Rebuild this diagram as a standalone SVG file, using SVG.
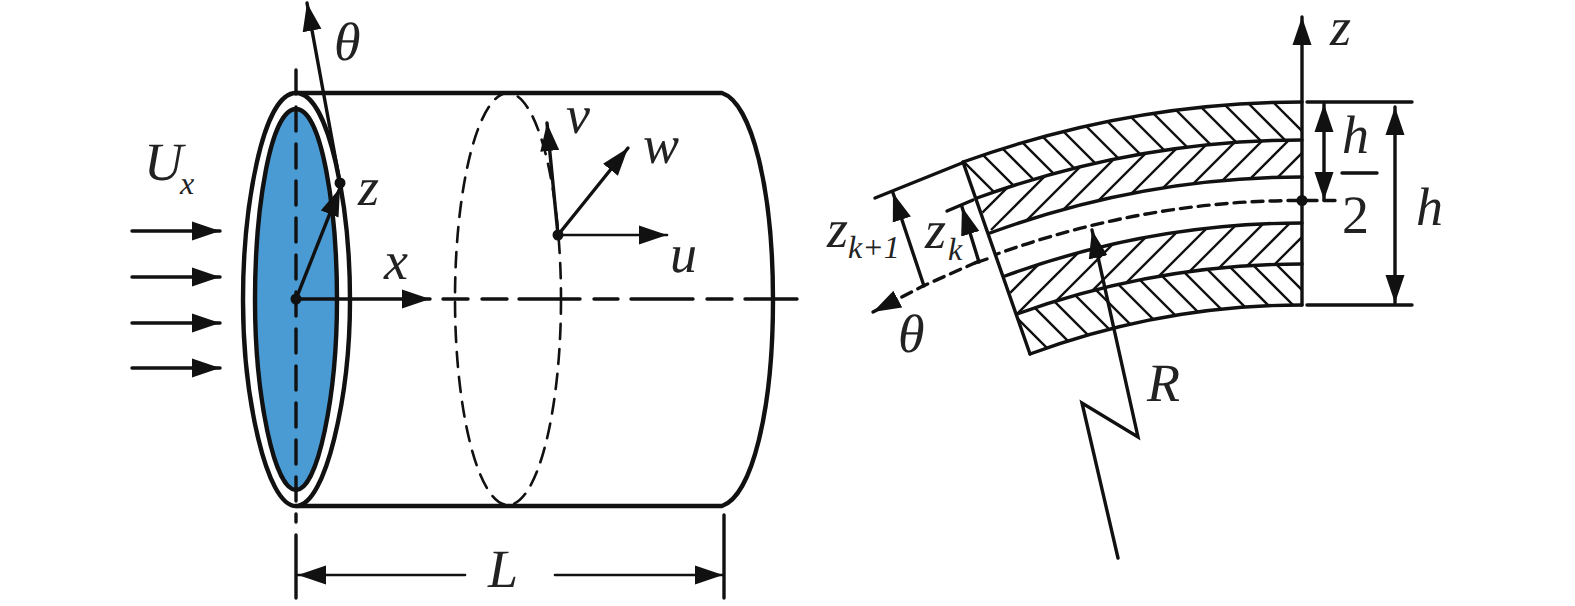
<svg xmlns="http://www.w3.org/2000/svg" width="1575" height="606" viewBox="0 0 1575 606">
<style>
.l{fill:none;stroke:#111;stroke-linecap:round}
.w4{stroke-width:4.4}.w3{stroke-width:3.4}.w2{stroke-width:2.6}
.h{fill:none;stroke:#111;stroke-width:2.4}
.t{font-family:"Liberation Serif",serif;font-style:italic;font-size:54px;fill:#222;text-rendering:geometricPrecision}
.s{font-size:32px}.n{font-style:normal}
</style>
<defs>
<marker id="a" markerUnits="userSpaceOnUse" markerWidth="30" markerHeight="22" refX="28" refY="10" orient="auto-start-reverse"><path d="M0 0.500L28 10L0 19.500Z" fill="#111"/></marker>
<clipPath id="c1"><path d="M963 162Q1130 102 1302 102V140Q1137 140 977 198Z"/></clipPath>
<clipPath id="c2"><path d="M977 198Q1137 140 1302 140V177Q1143 177 990 233Z"/></clipPath>
<clipPath id="c3"><path d="M1005 276Q1150 223 1302 223V264Q1156 264 1017 314Z"/></clipPath>
<clipPath id="c4"><path d="M1017 314Q1156 264 1302 264V305Q1163 305 1030 354Z"/></clipPath>
</defs>
<g id="cylinder">
<path class="l w4" d="M296 93H722C752 103 773 190 773 300C773 410 752 496 722 506H296"/>
<path class="l w4" style="fill:#fff" d="M296 93C262 93 243 210 243 300C243 395 266 506 296 506C326 506 350 395 350 300C350 210 330 93 296 93Z"/>
<path class="l w4" style="fill:#4a9bd4" d="M296 109C270 109 255 210 255 300C255 395 274 490 296 490C318 490 337 395 337 300C337 210 322 109 296 109Z"/>
<ellipse class="l w2" cx="508" cy="299" rx="53" ry="206" stroke-dasharray="15 10" stroke-linecap="butt"/>
</g>
<g id="connectors-left">
<path class="l w3" stroke-dasharray="24 13" stroke-linecap="butt" d="M296 70V522"/>
<path class="l w3" d="M296 535V598M724 515V598"/>
<path class="l w3" d="M296 299H430" marker-end="url(#a)"/>
<path class="l w3" stroke-linecap="butt" d="M443 299H468M482 299H507M519 299H580M594 299H618M631 299H693M707 299H732M745 299H797"/>
<path class="l w3" d="M340 183L307 3" marker-end="url(#a)"/>
<path class="l w3" d="M296 299L340 188" marker-end="url(#a)"/>
<circle cx="340" cy="183" r="5.500" fill="#111"/><circle cx="296" cy="299" r="5.500" fill="#111"/>
<path class="l w3" d="M132 231H220" marker-end="url(#a)"/>
<path class="l w3" d="M132 277H220" marker-end="url(#a)"/>
<path class="l w3" d="M132 323H220" marker-end="url(#a)"/>
<path class="l w3" d="M132 368H220" marker-end="url(#a)"/>
<path class="l w3" d="M558 235L547 123" marker-end="url(#a)"/>
<path class="l w3" d="M558 235L628 148" marker-end="url(#a)"/>
<path class="l w2" d="M558 235H667" marker-end="url(#a)"/>
<circle cx="558" cy="235" r="5.500" fill="#111"/>
<path class="l w2" d="M465 575H298" marker-end="url(#a)"/>
<path class="l w2" d="M555 575H723" marker-end="url(#a)"/>
</g>
<g id="laminate">
<g clip-path="url(#c1)"><path class="h" d="M892 90L1012 210M918 90L1038 210M944 90L1064 210M970 90L1090 210M996 90L1116 210M1022 90L1142 210M1050 90L1170 210M1076 90L1196 210M1104 90L1224 210M1130 90L1250 210M1156 90L1276 210M1184 90L1304 210M1210 90L1330 210M1235 90L1355 210M1261 90L1381 210"/></g>
<g clip-path="url(#c2)"><path class="h" d="M1105 90L965 230M1131 90L991 230M1157 90L1017 230M1183 90L1043 230M1209 90L1069 230M1235 90L1095 230M1261 90L1121 230M1287 90L1147 230M1313 90L1173 230M1339 90L1199 230M1365 90L1225 230"/></g>
<g clip-path="url(#c3)"><path class="h" d="M1103 200L973 330M1131 200L1001 330M1157 200L1027 330M1183 200L1053 330M1209 200L1079 330M1235 200L1105 330M1261 200L1131 330M1287 200L1157 330M1313 200L1183 330M1339 200L1209 330"/></g>
<g clip-path="url(#c4)"><path class="h" d="M949 250L1069 370M977 250L1097 370M1003 250L1123 370M1030 250L1150 370M1056 250L1176 370M1084 250L1204 370M1110 250L1230 370M1136 250L1256 370M1162 250L1282 370M1188 250L1308 370M1213 250L1333 370M1238 250L1358 370M1262 250L1382 370"/></g>
<path class="l w3" d="M963 162Q1130 102 1302 102M977 198Q1137 140 1302 140M990 233Q1143 177 1302 177M1005 276Q1150 223 1302 223M1017 314Q1156 264 1302 264M1030 354Q1163 305 1302 305"/>
<path class="l w3" d="M963 162L1030 354"/>
</g>
<g id="connectors-right">
<path class="l w3" d="M1302 305V17" marker-end="url(#a)"/>
<path class="l w3" d="M1307 102H1412M1307 305H1412"/>
<path class="l w3" d="M1324 104V200" marker-start="url(#a)" marker-end="url(#a)"/>
<path class="l w3" d="M1395 107V303" marker-start="url(#a)" marker-end="url(#a)"/>
<path class="l w3" d="M1342 173H1377"/>
<path class="l w3" stroke-dasharray="11 7" stroke-linecap="butt" d="M1335 200.500H1302Q1147 200 997 254"/>
<path class="l w3" stroke-dasharray="11 7" stroke-linecap="butt" d="M977 262L923 286L873 312" marker-end="url(#a)"/>
<circle cx="1302" cy="200.500" r="5.500" fill="#111"/>
<path class="l w3" d="M875 198L962 163M947 211L973 200"/>
<path class="l w3" d="M924 286L893 193" marker-end="url(#a)"/>
<path class="l w3" d="M979 262L962 207" marker-end="url(#a)"/>
<path class="l w3" d="M975 263L987 259"/>
<path class="l w3" d="M1118 558L1082 403L1138 437L1092 230" marker-end="url(#a)"/>
</g>
<g id="labels">
<text class="t" x="334" y="60">θ</text>
<text class="t" x="144" y="180">U</text><text class="t s" x="180" y="194">x</text>
<text class="t" x="358" y="205">z</text>
<text class="t" x="384" y="279">x</text>
<text class="t" x="566" y="133">v</text>
<text class="t" x="643" y="163">w</text>
<text class="t" x="670" y="272">u</text>
<text class="t" x="488" y="587">L</text>
<text class="t" x="1147" y="401">R</text>
<text class="t" x="898" y="352">θ</text>
<text class="t" x="827" y="247">z</text><text class="t s" x="848" y="258">k+1</text>
<text class="t" x="925" y="248">z</text><text class="t s" x="948" y="260">k</text>
<text class="t" x="1330" y="45">z</text>
<text class="t" x="1342" y="153">h</text>
<text class="t n" x="1342" y="233">2</text>
<text class="t" x="1416" y="225">h</text>
</g>
</svg>
